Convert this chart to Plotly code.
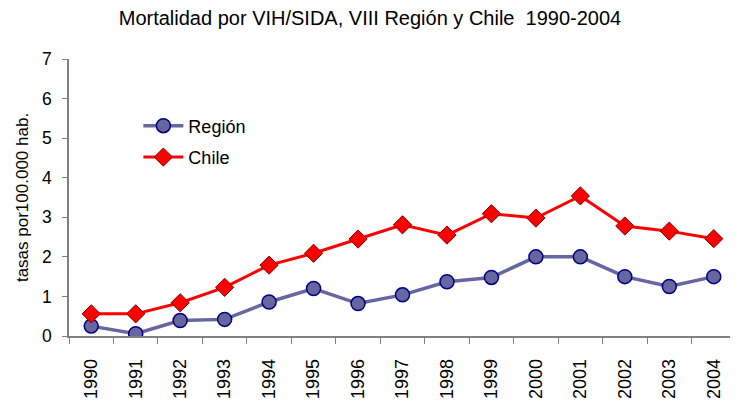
import plotly.graph_objects as go

years = ["1990", "1991", "1992", "1993", "1994", "1995", "1996", "1997",
         "1998", "1999", "2000", "2001", "2002", "2003", "2004"]
region = [0.25, 0.06, 0.39, 0.42, 0.86, 1.20, 0.82, 1.04, 1.37, 1.48, 2.00, 2.00, 1.50, 1.25, 1.50]
chile = [0.56, 0.56, 0.84, 1.23, 1.79, 2.09, 2.45, 2.81, 2.55, 3.09, 2.98, 3.54, 2.78, 2.65, 2.46]

font = "Liberation Sans, Arial, sans-serif"

fig = go.Figure()
fig.add_trace(go.Scatter(
    x=years, y=region, name="Región", mode="lines+markers", legendgroup="a",
    line=dict(color="#6666A0", width=3.5),
    marker=dict(symbol="circle", size=14, color="#6666A0",
                line=dict(color="#000080", width=1.5)),
))
fig.add_trace(go.Scatter(
    x=years, y=chile, name="Chile", mode="lines+markers", legendgroup="b",
    line=dict(color="#FF0000", width=3),
    marker=dict(symbol="diamond", size=14, color="#FF0000",
                line=dict(color="#800000", width=1)),
))

fig.update_layout(
    width=738, height=403,
    margin=dict(l=61, r=10, t=51, b=75, autoexpand=False),
    paper_bgcolor="white", plot_bgcolor="white",
    font=dict(family=font, size=17, color="black"),
    title=dict(text="Mortalidad por VIH/SIDA, VIII Región y Chile  1990-2004",
               x=0.4905, xref="container", xanchor="center",
               y=0.975, yref="container", yanchor="middle",
               font=dict(size=20, family=font)),
    showlegend=True,
    legend=dict(x=0.104, y=0.825, xanchor="left", yanchor="top",
                bgcolor="rgba(0,0,0,0)", font=dict(size=18),
                traceorder="grouped", tracegroupgap=5, itemwidth=40),
    xaxis=dict(type="category", range=[-0.5, len(years) - 0.5],
               tickson="boundaries", ticks="outside",
               ticklen=6, tickcolor="#808080", showline=True,
               linecolor="#808080", linewidth=1.5, showgrid=False,
               tickangle=-90, tickfont=dict(size=18), zeroline=False,
               automargin=False, ticklabelstandoff=14),
    yaxis=dict(range=[0, 7], dtick=1, ticks="outside", ticklen=5,
               tickcolor="#808080", showline=True, linecolor="#808080",
               linewidth=1.5, showgrid=False, zeroline=False,
               tickfont=dict(size=17.5), automargin=False,
               ticklabelstandoff=7,
               title=dict(text="tasas por100.000 hab.", font=dict(size=17),
                          standoff=9)),
)

fig.write_html("out.html")
